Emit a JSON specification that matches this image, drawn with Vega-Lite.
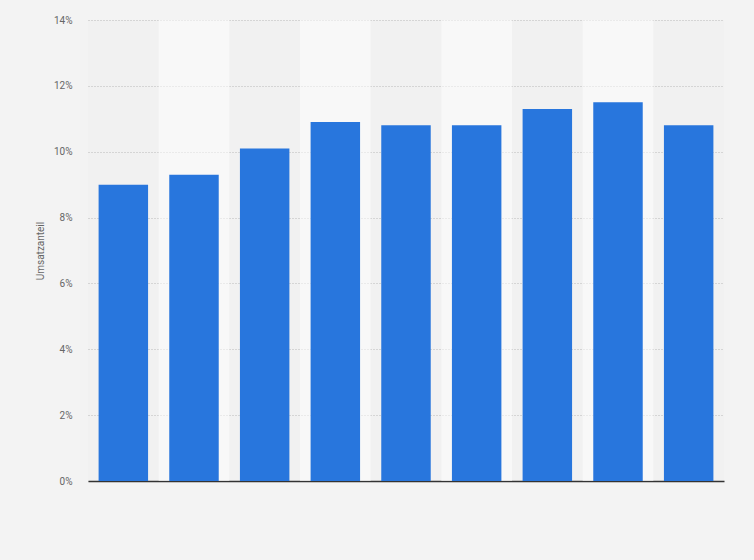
{
  "$schema": "https://vega.github.io/schema/vega-lite/v6.json",
  "width": 636,
  "height": 461,
  "autosize": {"type": "none"},
  "padding": {"left": 88, "top": 20, "right": 30, "bottom": 79},
  "background": "#f3f3f3",
  "config": {
    "view": {"stroke": null, "fill": "#f1f1f1"},
    "font": "Roboto",
    "axisY": {
      "grid": true,
      "gridColor": "#b8b8b8",
      "gridDash": [1, 2],
      "gridWidth": 1,
      "gridOpacity": 1
    }
  },
  "datasets": {
    "shares": [
      {"period": "1", "share": 9.0},
      {"period": "2", "share": 9.3},
      {"period": "3", "share": 10.1},
      {"period": "4", "share": 10.9},
      {"period": "5", "share": 10.8},
      {"period": "6", "share": 10.8},
      {"period": "7", "share": 11.3},
      {"period": "8", "share": 11.5},
      {"period": "9", "share": 10.8}
    ],
    "stripes": [
      {"period": "2"},
      {"period": "4"},
      {"period": "6"},
      {"period": "8"}
    ]
  },
  "layer": [
    {
      "data": {"name": "stripes"},
      "mark": {"type": "bar", "color": "#ffffff", "opacity": 0.5, "width": {"band": 1}},
      "encoding": {
        "x": {"field": "period", "type": "nominal"},
        "y": {"datum": 0, "type": "quantitative"},
        "y2": {"datum": 14}
      }
    },
    {
      "data": {"name": "shares"},
      "mark": {"type": "bar", "color": "#2876dd", "width": {"band": 0.7}},
      "encoding": {
        "x": {
          "field": "period",
          "type": "nominal",
          "sort": null,
          "scale": {"paddingInner": 0, "paddingOuter": 0},
          "axis": {
            "title": null,
            "labels": false,
            "ticks": false,
            "domainColor": "#333333",
            "domainWidth": 1.5
          }
        },
        "y": {
          "field": "share",
          "type": "quantitative",
          "scale": {"domain": [0, 14], "nice": false},
          "axis": {
            "title": "Umsatzanteil",
            "titleFontSize": 10,
            "titleFontWeight": "normal",
            "titleColor": "#666666",
            "titlePadding": 8,
            "values": [0, 2, 4, 6, 8, 10, 12, 14],
            "labelExpr": "datum.value + '%'",
            "labelFontSize": 10,
            "labelColor": "#666666",
            "labelPadding": 16,
            "ticks": false,
            "domain": false,
            "grid": true
          }
        }
      }
    }
  ]
}
